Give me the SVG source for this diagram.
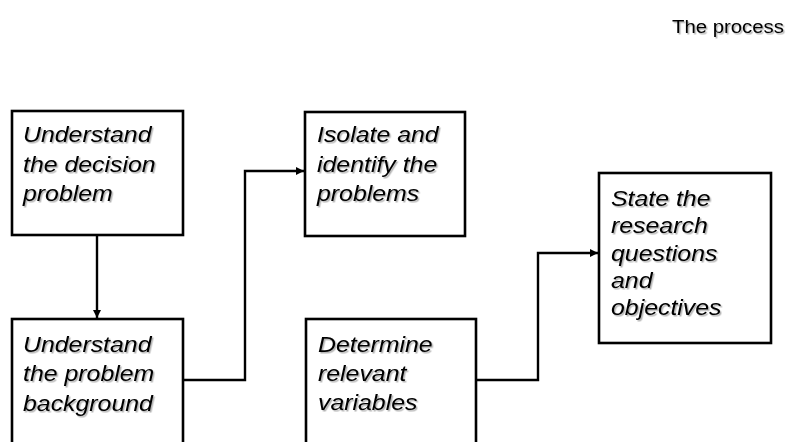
<svg xmlns="http://www.w3.org/2000/svg" width="787" height="442" viewBox="0 0 787 442">
  <defs>
    <marker id="arrow" viewBox="0 0 10 10" refX="10" refY="5" markerWidth="8" markerHeight="8" markerUnits="userSpaceOnUse" orient="auto">
      <path d="M0,0 L10,5 L0,10 z" fill="#000"/>
    </marker>
    <filter id="shadow" x="-10%" y="-10%" width="130%" height="130%">
      <feDropShadow dx="1.3" dy="1.5" stdDeviation="0.6" flood-color="#000" flood-opacity="0.3"/>
    </filter>
  </defs>
  <style>
    .box { fill: #fff; stroke: #000; stroke-width: 2.6; }
    .label { font-family: "Liberation Sans", Arial, sans-serif; font-size: 22.5px; font-style: italic; fill: #000; filter: url(#shadow); }
    .title { font-family: "Liberation Sans", Arial, sans-serif; font-size: 18.5px; fill: #000; filter: url(#shadow); }
    .wire { fill: none; stroke: #000; stroke-width: 2.4; }
  </style>
  <rect width="787" height="442" fill="#fff"/>

  <text class="title" transform="translate(672,33.3) scale(1.1,1)">The process</text>

  <g id="connectors">
    <path class="wire" d="M97,235 L97,318" marker-end="url(#arrow)"/>
    <path class="wire" d="M183,380 L245,380 L245,171 L304,171" marker-end="url(#arrow)"/>
    <path class="wire" d="M476,380 L538,380 L538,253 L598,253" marker-end="url(#arrow)"/>
  </g>

  <g id="understand-decision">
    <rect class="box" x="12" y="111" width="171" height="124"/>
    <text class="label" transform="translate(23,142.3) scale(1.105,1)">
      <tspan x="0">Understand</tspan>
      <tspan x="0" dy="29.3">the decision</tspan>
      <tspan x="0" dy="29.3">problem</tspan>
    </text>
  </g>

  <g id="understand-background">
    <rect class="box" x="12" y="319" width="171" height="140"/>
    <text class="label" transform="translate(23,352) scale(1.105,1)">
      <tspan x="0">Understand</tspan>
      <tspan x="0" dy="29.3">the problem</tspan>
      <tspan x="0" dy="29.3">background</tspan>
    </text>
  </g>

  <g id="isolate-problems">
    <rect class="box" x="305" y="112" width="160" height="124"/>
    <text class="label" transform="translate(317,142.3) scale(1.105,1)">
      <tspan x="0">Isolate and</tspan>
      <tspan x="0" dy="29.3">identify the</tspan>
      <tspan x="0" dy="29.3">problems</tspan>
    </text>
  </g>

  <g id="determine-variables">
    <rect class="box" x="306" y="319" width="170" height="140"/>
    <text class="label" transform="translate(318,351.7) scale(1.105,1)">
      <tspan x="0">Determine</tspan>
      <tspan x="0" dy="29.3">relevant</tspan>
      <tspan x="0" dy="29.3">variables</tspan>
    </text>
  </g>

  <g id="state-questions">
    <rect class="box" x="599" y="173" width="172" height="170"/>
    <text class="label" transform="translate(611,206) scale(1.105,1)">
      <tspan x="0">State the</tspan>
      <tspan x="0" dy="27.3">research</tspan>
      <tspan x="0" dy="27.3">questions</tspan>
      <tspan x="0" dy="27.3">and</tspan>
      <tspan x="0" dy="27.3">objectives</tspan>
    </text>
  </g>
</svg>
